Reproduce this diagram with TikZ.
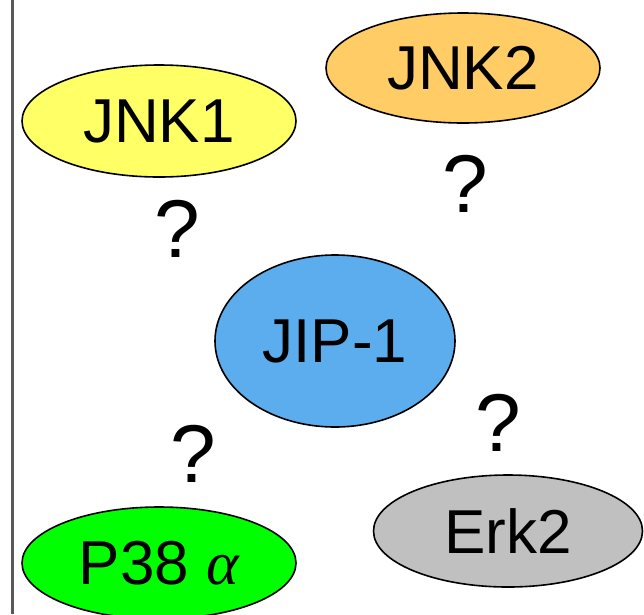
\documentclass[tikz,border=0pt]{standalone}
\usepackage{fontspec}
\setmainfont{Liberation Sans}
\newfontfamily\grkfont{Liberation Serif}
\usetikzlibrary{shapes.geometric}
\definecolor{cjnkone}{HTML}{FFFF66}
\definecolor{cjnktwo}{HTML}{FFCC66}
\definecolor{cjip}{HTML}{5BADEE}
\definecolor{cpthirty}{HTML}{00FF00}
\definecolor{cerk}{HTML}{C0C0C0}
\begin{document}
\begin{tikzpicture}[x=1pt,y=-1pt,
  prot/.style={ellipse, draw=black, line width=1.6pt, inner sep=0pt,
    font=\fontsize{62}{70}\selectfont},
  qmark/.style={inner sep=0pt, font=\fontsize{82}{90}\selectfont}]
\useasboundingbox (0,0) rectangle (644,614);
\draw[line width=2.5pt, color=black!65] (12.5,0) -- (12.5,614);
\node[prot, fill=cjnkone, minimum width=274pt, minimum height=112pt] (jnk1) at (159,121) {JNK1};
\node[prot, fill=cjnktwo, minimum width=274pt, minimum height=110pt] (jnk2) at (463,68) {JNK2};
\node[prot, fill=cjip, minimum width=240pt, minimum height=172pt] (jip) at (335,341) {JIP-1};
\node[prot, fill=cpthirty, minimum width=274pt, minimum height=112pt] (p38) at (159,563) {P38 {\grkfont\itshape α}};
\node[prot, fill=cerk, minimum width=269pt, minimum height=112pt] (erk) at (508,531) {Erk2};
\node[qmark] (q1) at (177,229) {?};
\node[qmark] (q2) at (465,184) {?};
\node[qmark] (q3) at (193,454) {?};
\node[qmark] (q4) at (498,423) {?};
\end{tikzpicture}
\end{document}
